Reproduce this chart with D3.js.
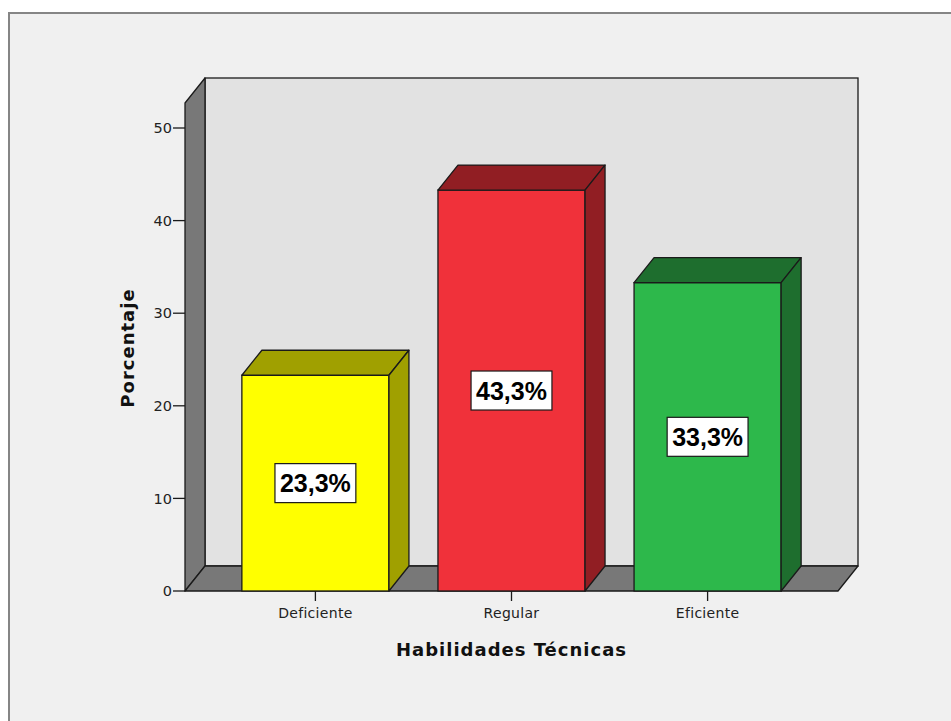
<!DOCTYPE html>
<html>
<head>
<meta charset="utf-8">
<script src="https://cdn.jsdelivr.net/npm/d3@7/dist/d3.min.js"></script>
<style>
  html, body { margin: 0; padding: 0; background: #ffffff; }
  svg { display: block; }
</style>
</head>
<body>
<svg id="chart" width="951" height="721"></svg>
<script>
// ---- Data ----
const categories = ["Deficiente", "Regular", "Eficiente"];
const values = [23.3, 43.3, 33.3];
const valueLabels = ["23,3%", "43,3%", "33,3%"];
const yTicks = [0, 10, 20, 30, 40, 50];
const frontColors = ["#ffff00", "#f0313a", "#2db84b"];
const sideColors = ["#a0a000", "#911e23", "#1e6e2e"];
const xTitle = "Habilidades Técnicas";
const yTitle = "Porcentaje";

// ---- Layout ----
const svg = d3.select("#chart");
const dx = 20, dy = 25;         // 3D depth offset
const plotLeft = 185, plotRight = 838, plotBottom = 591;
const wallTopValue = 52.7;

const x = d3.scaleBand().domain(categories).range([plotLeft, plotRight])
  .paddingInner(0.25).paddingOuter(0.29);
const y = d3.scaleLinear().domain([0, 50]).range([plotBottom, 128]);

// outer frame
svg.append("rect").attr("x", 9).attr("y", 13).attr("width", 960).attr("height", 720)
  .attr("fill", "#f0f0f0").attr("stroke", "#858585").attr("stroke-width", 2);

const stroke = "#1a1a1a";
const yTop = y(wallTopValue);

// back wall
svg.append("rect")
  .attr("x", plotLeft + dx).attr("y", yTop - dy)
  .attr("width", plotRight - plotLeft).attr("height", plotBottom - yTop)
  .attr("fill", "#e2e2e2").attr("stroke", stroke).attr("stroke-width", 1.3);

// left wall
svg.append("polygon")
  .attr("points", [[plotLeft, plotBottom], [plotLeft, yTop], [plotLeft + dx, yTop - dy], [plotLeft + dx, plotBottom - dy]].join(" "))
  .attr("fill", "#787878").attr("stroke", stroke).attr("stroke-width", 1.3).attr("stroke-linejoin", "round");

// floor
svg.append("polygon")
  .attr("points", [[plotLeft, plotBottom], [plotRight, plotBottom], [plotRight + dx, plotBottom - dy], [plotLeft + dx, plotBottom - dy]].join(" "))
  .attr("fill", "#787878").attr("stroke", stroke).attr("stroke-width", 1.3).attr("stroke-linejoin", "round");

// y ticks
const yAxisG = svg.append("g");
yTicks.forEach(t => {
  yAxisG.append("line").attr("x1", plotLeft - 12).attr("x2", plotLeft)
    .attr("y1", y(t)).attr("y2", y(t)).attr("stroke", stroke).attr("stroke-width", 1.3);
  yAxisG.append("text").attr("x", plotLeft - 13).attr("y", y(t))
    .attr("dy", "0.36em").attr("text-anchor", "end")
    .attr("font-family", "DejaVu Sans").attr("font-size", 14.5).attr("fill", "#222")
    .text(t);
});

// bars
const bars = svg.append("g");
categories.forEach((c, i) => {
  const x0 = x(c), x1 = x(c) + x.bandwidth();
  const yv = y(values[i]), y0 = y(0);
  const g = bars.append("g");
  g.append("rect").attr("x", x0).attr("y", yv).attr("width", x1 - x0).attr("height", y0 - yv)
    .attr("fill", frontColors[i]).attr("stroke", stroke).attr("stroke-width", 1.3);
  g.append("polygon")
    .attr("points", [[x0, yv], [x0 + dx, yv - dy], [x1 + dx, yv - dy], [x1, yv]].join(" "))
    .attr("fill", sideColors[i]).attr("stroke", stroke).attr("stroke-width", 1.3).attr("stroke-linejoin", "round");
  g.append("polygon")
    .attr("points", [[x1, yv], [x1 + dx, yv - dy], [x1 + dx, y0 - dy], [x1, y0]].join(" "))
    .attr("fill", sideColors[i]).attr("stroke", stroke).attr("stroke-width", 1.3).attr("stroke-linejoin", "round");

  // label box
  const cx = (x0 + x1) / 2, cy = (yv + y0) / 2;
  const lg = g.append("g");
  const txt = lg.append("text").attr("x", cx).attr("y", cy).attr("dy", "0.36em")
    .attr("text-anchor", "middle").attr("font-family", "Liberation Sans, Arial")
    .attr("font-weight", "bold").attr("font-size", 25).attr("fill", "#000")
    .text(valueLabels[i]);
  const w = txt.node().getComputedTextLength() + 10;
  const h = 39;
  lg.insert("rect", "text").attr("x", cx - w / 2).attr("y", cy - h / 2)
    .attr("width", w).attr("height", h).attr("fill", "#ffffff")
    .attr("stroke", stroke).attr("stroke-width", 1.2);

  // x tick + label
  svg.append("line").attr("x1", cx).attr("x2", cx).attr("y1", y0).attr("y2", y0 + 10)
    .attr("stroke", stroke).attr("stroke-width", 1.3);
  svg.append("text").attr("x", cx).attr("y", y0 + 27).attr("text-anchor", "middle")
    .attr("font-family", "DejaVu Sans").attr("font-size", 14).attr("letter-spacing", 0.3)
    .attr("fill", "#222").text(c);
});

// axis titles
const xMid = (x(categories[0]) + x(categories[categories.length - 1]) + x.bandwidth()) / 2;
svg.append("text").attr("x", xMid).attr("y", 656)
  .attr("text-anchor", "middle").attr("font-family", "DejaVu Sans").attr("font-weight", "bold")
  .attr("font-size", 18).attr("letter-spacing", 1).attr("fill", "#111").text(xTitle);

svg.append("text").attr("transform", "translate(134,348) rotate(-90)")
  .attr("text-anchor", "middle").attr("font-family", "DejaVu Sans").attr("font-weight", "bold")
  .attr("font-size", 18).attr("letter-spacing", 1).attr("fill", "#111").text(yTitle);
</script>
</body>
</html>
